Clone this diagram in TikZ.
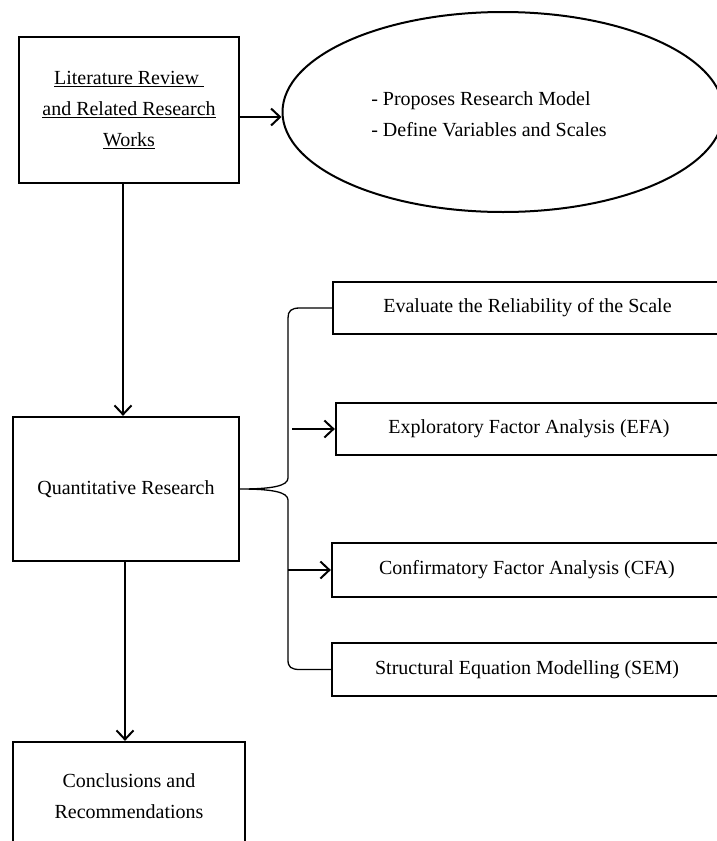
\documentclass[tikz,border=0pt]{standalone}
\usepackage{fontspec}
\setmainfont{Liberation Serif}
\usetikzlibrary{arrows.meta,shapes.geometric}
\begin{document}
\begin{tikzpicture}[x=1pt,y=-1pt,
  txt/.style={font=\fontsize{20}{31}\selectfont},
  box/.style={draw,rectangle,line width=2.3pt,inner sep=0pt,align=center,txt},
  arr/.style={line width=2pt,-{Straight Barb[length=9pt,width=17pt,line width=2pt]}},
  thinarr/.style={line width=1.4pt,-{Straight Barb[length=9pt,width=17pt,line width=2pt]}},
  bracel/.style={line width=1.3pt}]
\path[use as bounding box, clip] (0,0) rectangle (717,841);
\fill[white] (0,0) rectangle (717,841);

% boxes
\node[box,minimum width=220pt,minimum height=146pt] (A) at (129,110)
  {\underline{Literature Review\ }\\\underline{and Related Research}\\\underline{Works}};
\node[draw,ellipse,line width=2pt,minimum width=441pt,minimum height=200pt,inner sep=0pt] (E) at (503,112) {};
\node[txt,align=left] (Et) at (489,114) {- Proposes Research Model\\- Define Variables and Scales};
\node[box,minimum width=226pt,minimum height=144pt] (Q) at (126,489) {Quantitative Research};
\node[box,minimum width=232pt,minimum height=108pt] (C) at (129,796) {Conclusions and\\Recommendations};

\node[box,minimum width=389pt,minimum height=52pt] (B1) at (527.5,308) {Evaluate the Reliability of the Scale};
\node[box,minimum width=386pt,minimum height=52pt] (B2) at (529,429) {Exploratory Factor Analysis (EFA)};
\node[box,minimum width=390pt,minimum height=54pt] (B3) at (527,570) {Confirmatory Factor Analysis (CFA)};
\node[box,minimum width=390pt,minimum height=53pt] (B4) at (527,669.5) {Structural Equation Modelling (SEM)};

% connectors
\coordinate (x1) at (123,0);
\coordinate (x2) at (125,0);
\coordinate (a0) at ([yshift=-7pt]A.east);
\draw[arr] (A.south -| x1) -- (Q.north -| x1);
\draw[arr] (Q.south -| x2) -- (C.north -| x2);
\draw[arr] (a0) -- (a0 -| E.west);

% brace
\draw[bracel] (B1.west) -- (300,308) .. controls (291,308) and (288,311) .. (288,318)
  -- (288,478) .. controls (288,486) and (272,489) .. (Q.east)
  .. controls (272,489) and (288,492) .. (288,500)
  -- (288,660) .. controls (288,667) and (291,669.5) .. (300,669.5) -- (B4.west);

\coordinate (e0) at (292,429);
\coordinate (c0) at (288,570);
\draw[arr] (e0) -- (B2.west);
\draw[thinarr] (c0) -- (B3.west);
\end{tikzpicture}
\end{document}
